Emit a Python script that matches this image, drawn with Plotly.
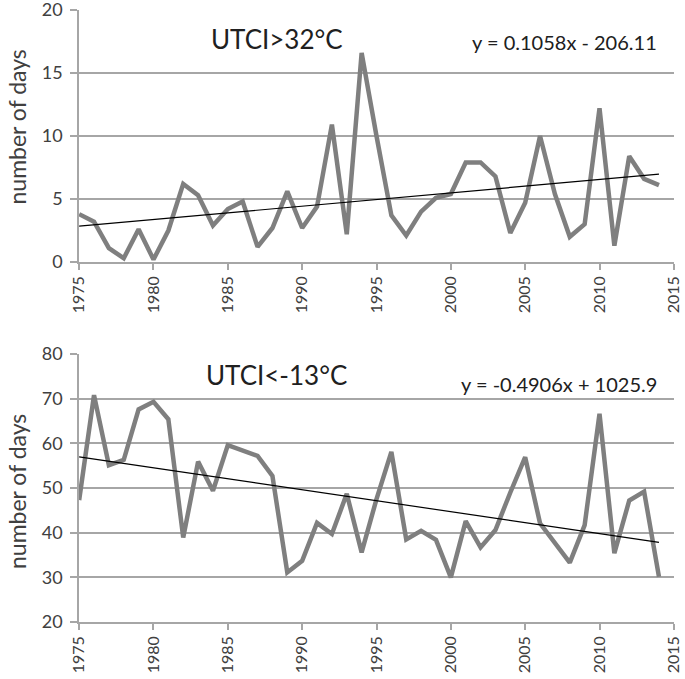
import plotly.graph_objects as go
from plotly.subplots import make_subplots

years = list(range(1975, 2015))
hot_days = [3.8, 3.2, 1.1, 0.3, 2.6, 0.2, 2.5, 6.2, 5.3, 2.9,
            4.2, 4.8, 1.2, 2.7, 5.6, 2.7, 4.4, 10.9, 2.2, 16.6,
            10.0, 3.7, 2.1, 4.0, 5.1, 5.4, 7.9, 7.9, 6.8, 2.3,
            4.7, 10.0, 5.4, 2.0, 3.0, 12.2, 1.3, 8.4, 6.6, 6.1]
cold_days = [47.3, 70.8, 55.1, 56.3, 67.6, 69.3, 65.4, 38.9, 55.9, 49.4,
             59.6, 58.5, 57.2, 52.7, 31.1, 33.7, 42.2, 39.7, 48.7, 35.6,
             47.5, 58.1, 38.5, 40.4, 38.4, 30.0, 42.6, 36.7, 40.6, 49.0,
             56.9, 42.1, 37.8, 33.3, 41.7, 66.6, 35.4, 47.2, 49.2, 30.1]
hot_trend = (0.1058, -206.11)
cold_trend = (-0.4906, 1025.9)
x_ticks = list(range(1975, 2016, 5))
hot_y_ticks = [0, 5, 10, 15, 20]
cold_y_ticks = [20, 30, 40, 50, 60, 70, 80]

font_family = "Lato, 'Open Sans', sans-serif"
grey = "#7f7f7f"
grid = "#a6a6a6"
text_col = "#404040"

fig = make_subplots(rows=2, cols=1, vertical_spacing=0.0)

def trend(coef):
    a, b = coef
    return [a * y + b for y in years]

fig.add_trace(go.Scatter(x=years, y=hot_days, mode="lines",
                         line=dict(color=grey, width=4.5), showlegend=False), row=1, col=1)
fig.add_trace(go.Scatter(x=years, y=trend(hot_trend), mode="lines",
                         line=dict(color="black", width=1.2), showlegend=False), row=1, col=1)
fig.add_trace(go.Scatter(x=years, y=cold_days, mode="lines",
                         line=dict(color=grey, width=4.5), showlegend=False), row=2, col=1)
fig.add_trace(go.Scatter(x=years, y=trend(cold_trend), mode="lines",
                         line=dict(color="black", width=1.2), showlegend=False), row=2, col=1)

xaxis_common = dict(range=[1974.99, 2015.01], tickvals=x_ticks, ticktext=[str(v) for v in x_ticks],
                    tickangle=-90, ticks="outside", ticklen=6, tickcolor=grid, tickwidth=1.5,
                    showline=True, linecolor=grid, linewidth=1.5, showgrid=False, zeroline=False,
                    automargin=False, ticklabeloverflow="allow",
                    tickfont=dict(size=16, color=text_col, family=font_family))
yaxis_common = dict(ticks="outside", ticklen=7, tickcolor=grid, tickwidth=1.5,
                    showline=True, linecolor=grid, linewidth=1.5,
                    showgrid=True, gridcolor=grid, gridwidth=1.5, zeroline=False,
                    automargin=False, ticklabelstandoff=4, ticklabeloverflow="allow",
                    tickfont=dict(size=18, color=text_col, family=font_family))

fig.update_xaxes(**xaxis_common, row=1, col=1)
fig.update_xaxes(**xaxis_common, row=2, col=1)
fig.update_yaxes(**yaxis_common, range=[0, 20], tickvals=hot_y_ticks, row=1, col=1)
fig.update_yaxes(**yaxis_common, range=[20, 80], tickvals=cold_y_ticks, row=2, col=1)

fig.update_layout(
    width=685, height=679,
    margin=dict(l=79, r=11, t=10, b=57, autoexpand=False),
    paper_bgcolor="white", plot_bgcolor="white",
    xaxis=dict(domain=[0, 1]), xaxis2=dict(domain=[0, 1]),
    yaxis=dict(domain=[0.5882, 1.0]),
    yaxis2=dict(domain=[0.0, 0.4379]),
    font=dict(family=font_family, color=text_col),
)

title_font = dict(size=23, color=text_col, family=font_family)
fig.add_annotation(text="number of days", xref="paper", yref="paper", x=-0.1042, y=0.808,
                   xanchor="center", yanchor="middle",
                   textangle=-90, showarrow=False, font=title_font)
fig.add_annotation(text="number of days", xref="paper", yref="paper", x=-0.1042, y=0.2124,
                   xanchor="center", yanchor="middle",
                   textangle=-90, showarrow=False, font=title_font)

fig.add_annotation(text="UTCI>32°C", xref="x", yref="y", x=1988.3, y=17.7,
                   showarrow=False, font=dict(size=26, color="#202020", family=font_family))
fig.add_annotation(text="y = 0.1058x - 206.11", xref="x", yref="y", x=2014.0, y=17.5,
                   xanchor="right", showarrow=False, font=dict(size=20, color="#202020", family=font_family))
fig.add_annotation(text="UTCI<-13°C", xref="x2", yref="y2", x=1988.3, y=75.3,
                   showarrow=False, font=dict(size=26, color="#202020", family=font_family))
fig.add_annotation(text="y = -0.4906x + 1025.9", xref="x2", yref="y2", x=2014.0, y=73.3,
                   xanchor="right", showarrow=False, font=dict(size=20, color="#202020", family=font_family))

fig.write_html("out.html", config={"displayModeBar": False},
               post_script="document.body.style.margin='0';document.body.style.padding='0';")
